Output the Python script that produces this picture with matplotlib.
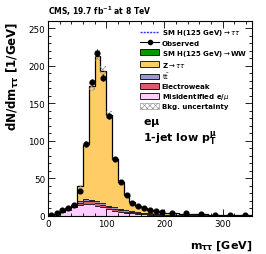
import numpy as np
import matplotlib
matplotlib.use("Agg")
import matplotlib.pyplot as plt
from matplotlib.lines import Line2D
from matplotlib.patches import Patch
from matplotlib.ticker import MultipleLocator

plt.rcParams['font.family'] = ['DejaVu Sans']
plt.rcParams['hatch.linewidth'] = 0.4

edges = [0, 10, 20, 30, 40, 50, 60, 70, 80, 90, 100, 110, 120, 130, 140, 150,
         160, 170, 180, 190, 200, 225, 250, 275, 300, 325, 350]

fakes = [0.3, 2, 5, 8, 11, 14, 15.5, 15, 13, 11, 8.5, 6.5, 5, 3.8, 3, 2.3,
         1.8, 1.4, 1.1, 0.9, 0.6, 0.4, 0.3, 0.2, 0.15, 0.1]
ewk = [0.05, 0.2, 0.5, 0.8, 1.2, 3.5, 4, 4, 3.8, 3.5, 3, 2.6, 2.1, 1.7, 1.4,
       1.1, 0.9, 0.7, 0.6, 0.5, 0.35, 0.25, 0.2, 0.15, 0.1, 0.08]
ttbar = [0.05, 0.2, 0.4, 0.6, 0.8, 2.0, 2.2, 2.3, 2.3, 2.2, 2.1, 2.0, 1.8,
         1.6, 1.4, 1.2, 1.0, 0.9, 0.8, 0.7, 0.55, 0.45, 0.35, 0.25, 0.2, 0.15]
ztt = [0.1, 0.5, 0.8, 1.0, 1.2, 20, 74, 151, 194, 176, 121, 64, 36, 20, 12,
       8, 6, 4.5, 3.4, 2.6, 2.0, 1.4, 1.1, 0.9, 0.7, 0.6]
hww = [0, 0, 0, 0, 0.05, 0.2, 0.3, 0.4, 0.4, 0.4, 0.3, 0.3, 0.2, 0.2, 0.15,
       0.1, 0.1, 0.05, 0.05, 0.05, 0.03, 0.02, 0.01, 0.01, 0.01, 0.01]
observed = [0.5, 3, 8, 10, 14, 33, 95, 178, 217, 184, 133, 76, 45, 27, 17,
            13, 10, 8, 6, 5, 4, 3, 2, 1.5, 1.3, 1.2]
unc_frac = 0.035

edges = np.array(edges, dtype=float)
centers = 0.5 * (edges[:-1] + edges[1:])
widths = np.diff(edges)

fig = plt.figure(figsize=(2.66, 2.55), dpi=100)
ax = fig.add_axes([0.180, 0.150, 0.767, 0.765])

layers = [
    (fakes, '#FFCCFF'),
    (ewk, '#DE5A6A'),
    (ttbar, '#9999CC'),
    (ztt, '#FFCC66'),
    (hww, '#009900'),
]
base = np.zeros(len(centers))
for vals, col in layers:
    v = np.array(vals, dtype=float)
    ax.stairs(base + v, edges, baseline=base, fill=True, color=col, lw=0)
    ax.stairs(base + v, edges, baseline=None, color='#222222', lw=0.7)
    base = base + v
total = base
ax.stairs(total, edges, baseline=0, fill=False, color='black', lw=0.9)
unc = unc_frac * total
ax.stairs(total + unc, edges, baseline=total - unc, fill=False, hatch='xxxxxx',
          color='#888888', lw=0)

obs = np.array(observed)
err = np.sqrt(obs * widths) / widths
ax.errorbar(centers, obs, yerr=err, fmt='o', color='black', ms=3.4,
            elinewidth=0.7, capsize=0)

ax.set_xlim(0, 350)
ax.set_ylim(0, 260)
ax.xaxis.set_major_locator(MultipleLocator(100))
ax.xaxis.set_minor_locator(MultipleLocator(20))
ax.yaxis.set_major_locator(MultipleLocator(50))
ax.yaxis.set_minor_locator(MultipleLocator(10))
ax.tick_params(which='both', direction='in', top=True, right=True, labelsize=6.3,
               width=0.6, pad=2)
ax.tick_params(which='major', length=5)
ax.tick_params(which='minor', length=2.5)
for s in ax.spines.values():
    s.set_linewidth(0.8)

ax.set_xlabel(r'$\mathbf{m_{\tau\tau}}$ [GeV]', fontsize=8, fontweight='bold',
              loc='right', labelpad=8)
ax.set_ylabel(r'dN/d$\mathbf{m_{\tau\tau}}$ [1/GeV]', fontsize=8.5,
              fontweight='bold', loc='top', labelpad=5)
fig.text(0.18, 0.93, r'CMS, 19.7 fb$^{\mathbf{-1}}$ at 8 TeV', fontsize=5.5,
         fontweight='bold', ha='left', va='bottom')

ax.text(0.465, 0.48, r'e$\mathbf{\mu}$', transform=ax.transAxes, fontsize=8,
        fontweight='bold', ha='left', va='center')
ax.text(0.465, 0.40, r'1-jet low p$_\mathbf{T}^\mathbf{\mu}$', transform=ax.transAxes,
        fontsize=8, fontweight='bold', ha='left', va='center')

handles = [
    Line2D([], [], color='#3333FF', ls=(0, (1.5, 0.8)), lw=1.0),
    Line2D([], [], color='black', marker='o', ms=3, lw=0.8),
    Patch(facecolor='#009900', edgecolor='black', lw=0.6),
    Patch(facecolor='#FFCC66', edgecolor='black', lw=0.6),
    Patch(facecolor='#9999CC', edgecolor='black', lw=0.6),
    Patch(facecolor='#DE5A6A', edgecolor='black', lw=0.6),
    Patch(facecolor='#FFCCFF', edgecolor='black', lw=0.6),
    Patch(facecolor='white', edgecolor='#888888', hatch='xxxxxx', lw=0.4),
]
labels = [r'SM H(125 GeV)$\rightarrow\tau\tau$', 'Observed',
          r'SM H(125 GeV)$\rightarrow$WW', r'Z$\rightarrow\tau\tau$',
          r'$\mathrm{t\bar{t}}$', 'Electroweak', r'Misidentified e/$\mu$',
          'Bkg. uncertainty']
leg = ax.legend(handles, labels, loc='upper right', bbox_to_anchor=(1.0, 0.99),
                frameon=False, fontsize=5, handlelength=2.8, handleheight=0.9,
                labelspacing=0.28, handletextpad=0.3, borderaxespad=0.3)
for t in leg.get_texts():
    t.set_fontweight('bold')

fig.savefig('out.png', dpi=100)
